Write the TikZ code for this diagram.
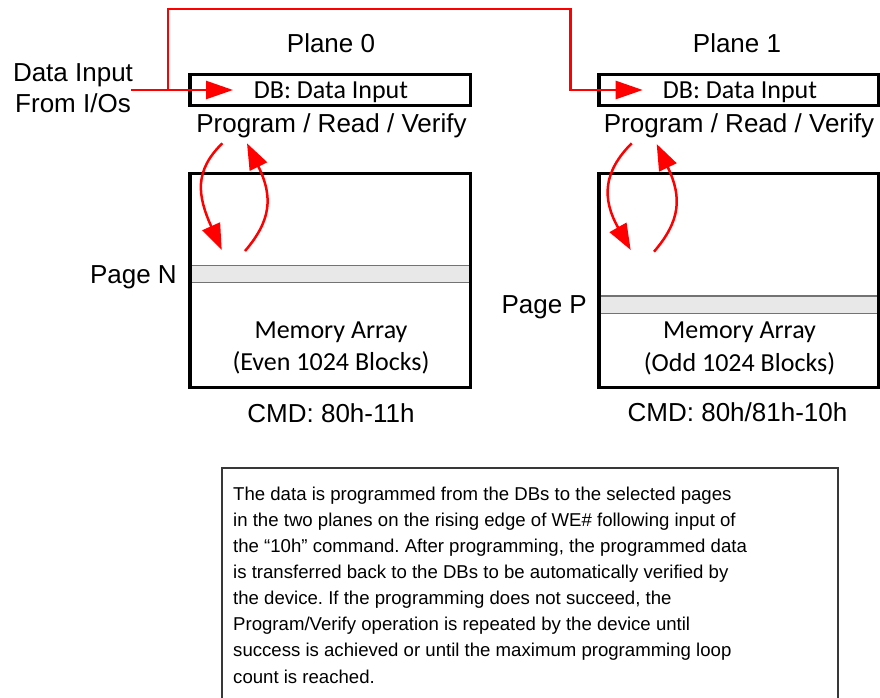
\documentclass[tikz,border=0pt]{standalone}
\usepackage{fontspec}
\setmainfont{Liberation Sans}
\newfontfamily\calfont{Carlito}
\usetikzlibrary{arrows.meta}
\frenchspacing
\tikzset{
  lbl/.style={inner sep=0pt, font=\fontsize{26}{31}\selectfont},
  cal/.style={inner sep=0pt, font=\calfont\fontsize{26}{31}\selectfont},
  frame/.style={draw=black, line width=3.3pt, inner sep=0pt, outer sep=0pt},
  pagestrip/.style={draw=black!55, line width=1.2pt, fill=black!9, inner sep=0pt, outer sep=0pt},
  flow/.style={draw=red, line width=2.5pt, line join=miter, -{Triangle[length=27pt,width=18pt]}},
  loopback/.style={draw=red, line width=2.5pt, -{Triangle[length=26pt,width=19pt]}},
  notebox/.style={draw=black!78, line width=1.6pt},
}
\begin{document}
\begin{tikzpicture}[x=1pt,y=-1pt]
\useasboundingbox (0,0) rectangle (880,698);

% page strips (drawn first so the array frames cover their ends)
\node[pagestrip, minimum width=280.5pt, minimum height=17pt] (stripN) at (330.25,274.2) {};
\node[pagestrip, minimum width=279.3pt, minimum height=17.3pt] (stripP) at (738.65,304.65) {};

% data buffers and memory arrays
\node[frame, minimum width=280.5pt, minimum height=31.2pt] (db0) at (330.25,90.1) {};
\node[frame, minimum width=279.3pt, minimum height=31.2pt] (db1) at (738.65,90.1) {};
\node[frame, minimum width=280.5pt, minimum height=214pt] (mem0) at (330.25,280.5) {};
\node[frame, minimum width=279.3pt, minimum height=214pt] (mem1) at (738.65,280.5) {};

% labels
\node[lbl, anchor=base] (plane0) at (331,53) {Plane 0};
\node[lbl, anchor=base] (plane1) at (737,53) {Plane 1};
\node[lbl, anchor=north, align=center] (dataio) at (73,63.4) {Data Input\\From I/Os};
\node[cal, anchor=base] (db0t) at (331,99) {DB: Data Input};
\node[cal, anchor=base] (db1t) at (740,99) {DB: Data Input};
\node[lbl, anchor=base] (prv0) at (331.5,132) {Program / Read / Verify};
\node[lbl, anchor=base] (prv1) at (739,132) {Program / Read / Verify};
\node[lbl, anchor=base east] (pgN) at (177,283) {Page N};
\node[lbl, anchor=base east] (pgP) at (587,313) {Page P};
\node[cal, anchor=base] (ma0) at (331,338) {Memory Array};
\node[cal, anchor=base] (ev0) at (331,370) {(Even 1024 Blocks)};
\node[cal, anchor=base] (ma1) at (739.5,338) {Memory Array};
\node[cal, anchor=base] (od1) at (739.5,371) {(Odd 1024 Blocks)};
\node[lbl, anchor=base] (cmd0) at (331,422) {CMD: 80h-11h};
\node[lbl, anchor=base] (cmd1) at (737.5,421) {CMD: 80h/81h-10h};

% data input routing
\coordinate (src) at (131,90);
\coordinate (fork) at (168,90);
\coordinate (in0) at (233,90);
\coordinate (up0) at (168,9);
\coordinate (over) at (570.5,9);
\coordinate (in1) at (642.7,90);
\draw[flow] (src) -- (in0);
\draw[flow] (fork) -- (up0) -- (over) |- (in1);

% program / verify loops
\coordinate (w0s) at (222.3,143.3);
\coordinate (w0e) at (221.7,250);
\coordinate (r0s) at (245,251);
\coordinate (r0e) at (247,143.3);
\draw[loopback] (w0s) .. controls (194,171) and (197.4,195.4) .. (w0e);
\draw[loopback] (r0s) .. controls (271,220.6) and (273.4,197) .. (r0e);
\coordinate (w1s) at (631.7,143.3);
\coordinate (w1e) at (630.7,250);
\coordinate (r1s) at (654,251.7);
\coordinate (r1e) at (656.7,144);
\draw[loopback] (w1s) .. controls (603.7,171.3) and (601.3,197.8) .. (w1e);
\draw[loopback] (r1s) .. controls (680,221.3) and (682.5,198) .. (r1e);

% description panel
\coordinate (nbl) at (222,698);
\coordinate (ntl) at (222,468);
\coordinate (ntr) at (838,468);
\coordinate (nbr) at (838,698);
\draw[notebox] (nbl) -- (ntl) -- (ntr) -- (nbr);
\node[anchor=north west, inner sep=0pt, align=left, font=\fontsize{18.6}{26.14}\selectfont] (note) at (233,486.4)
{The data is programmed from the DBs to the selected pages\\
in the two planes on the rising edge of WE\# following input of\\
the “10h” command. After programming, the programmed data\\
is transferred back to the DBs to be automatically verified by\\
the device. If the programming does not succeed, the\\
Program/Verify operation is repeated by the device until\\
success is achieved or until the maximum programming loop\\
count is reached.};
\end{tikzpicture}
\end{document}
